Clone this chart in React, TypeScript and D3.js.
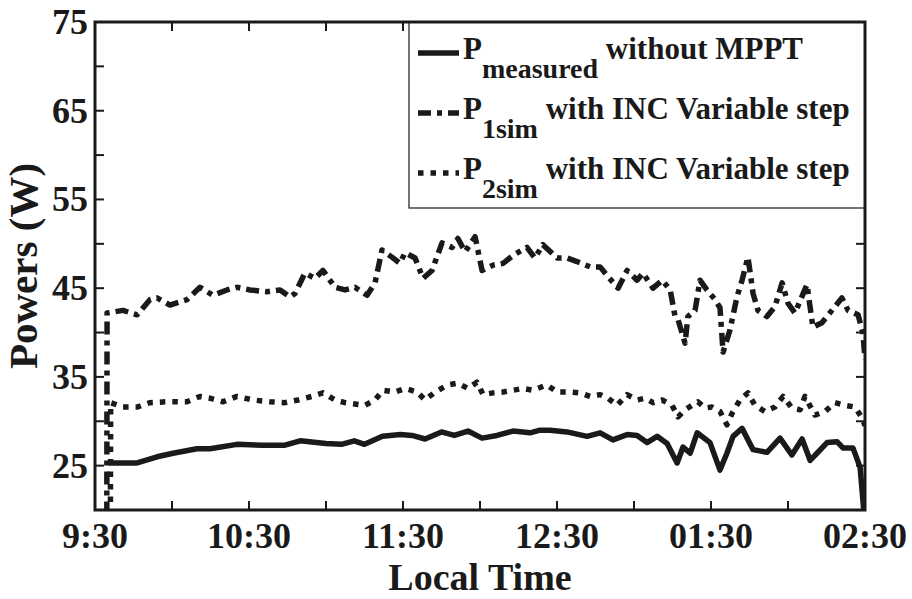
import React from 'react';
import * as d3 from 'd3';

// x in minutes after 9:30
const xTickLabels = ['9:30', '10:30', '11:30', '12:30', '01:30', '02:30'];
const xTickMinutes = [0, 30, 60, 90, 120, 150, 180, 210, 240, 270, 300];
const yTickValues = [20, 25, 30, 35, 40, 45, 50, 55, 60, 65, 70, 75];
const yLabelValues = [25, 35, 45, 55, 65, 75];

const measuredT = [5.8, 10, 16.4, 24.2, 30.4, 39.7, 44.8, 55.3, 65.5, 74, 79.9, 90, 96, 101, 105, 112, 119, 123.5, 128.6, 135, 140, 145.3, 150.8, 156.6, 162.9, 169.5, 173.4, 177.3, 183.9, 191.7, 196.8, 201.8, 207.3, 211.2, 215.1, 219.0, 222.9, 226.8, 229.1, 231.9, 234.6, 239.6, 243.5, 246.2, 248.6, 252.1, 256.4, 261.8, 266.9, 271.5, 275.5, 278.6, 281.3, 285.2, 289.1, 291.4, 295.3, 298.1, 299.5];
const measuredP = [25.3, 25.3, 25.3, 26.0, 26.4, 26.9, 26.9, 27.4, 27.3, 27.3, 27.8, 27.5, 27.4, 27.8, 27.4, 28.3, 28.5, 28.4, 28.0, 28.8, 28.4, 28.9, 28.1, 28.4, 28.9, 28.7, 29.0, 29.0, 28.8, 28.3, 28.7, 27.9, 28.5, 28.4, 27.6, 28.3, 27.5, 25.3, 27.1, 26.4, 28.7, 27.6, 24.5, 26.4, 28.3, 29.2, 26.8, 26.5, 28.1, 26.2, 28.0, 25.6, 26.4, 27.6, 27.7, 27.0, 27.0, 24.8, 20.0];

const p1T = [4.6, 4.7, 10.9, 16.4, 21.4, 24.2, 29.2, 35.8, 40.9, 46.0, 51.4, 55.3, 60.4, 67.0, 72.1, 76.0, 77.9, 81.8, 85.7, 88.8, 93.5, 97.4, 101.3, 106.0, 109.1, 111.8, 115.7, 118.8, 120.8, 124.7, 127.8, 131.3, 135.2, 139.1, 141.4, 144.2, 148.1, 150.8, 155.1, 159.0, 162.9, 168.3, 171.4, 174.5, 180.0, 183.9, 187.8, 192.9, 196.8, 199.9, 203.8, 207.3, 211.2, 213.5, 217.4, 221.0, 224.1, 226.0, 227.2, 229.9, 231.0, 233.8, 235.7, 238.4, 241.6, 243.5, 244.7, 247.4, 250.1, 252.1, 254.4, 256.4, 258.3, 261.8, 264.9, 267.7, 270.0, 272.7, 277.4, 279.7, 283.2, 287.1, 291.0, 293.4, 297.3, 299.2, 300];
const p1P = [19.5, 42.2, 42.5, 42.0, 43.7, 43.9, 43.1, 43.7, 45.1, 44.2, 44.8, 45.1, 44.8, 44.6, 44.8, 44.0, 44.4, 46.7, 46.1, 47.0, 45.1, 44.8, 45.1, 44.2, 45.6, 49.3, 48.5, 47.8, 49.0, 48.4, 46.1, 47.0, 50.1, 49.6, 50.6, 49.1, 50.8, 47.0, 47.6, 47.8, 48.7, 49.6, 48.4, 49.9, 48.4, 48.4, 48.0, 47.4, 47.4, 46.3, 45.0, 47.0, 45.9, 46.7, 45.0, 45.9, 44.8, 41.8, 41.4, 38.8, 41.8, 42.5, 45.9, 44.8, 43.7, 42.8, 37.8, 40.3, 44.0, 45.9, 48.5, 44.4, 42.5, 41.8, 42.9, 45.6, 43.3, 42.2, 45.4, 40.6, 41.1, 42.5, 43.9, 42.5, 42.0, 39.9, 37.0];

const p2T = [6.0, 6.1, 10.9, 16.4, 21.4, 28.1, 35.8, 40.9, 44.8, 49.9, 55.3, 61.6, 68.2, 74.0, 79.1, 84.5, 88.8, 93.5, 97.4, 105.2, 109.1, 112.2, 116.9, 120.8, 125.5, 128.6, 132.5, 137.5, 141.4, 145.3, 148.8, 151.2, 155.1, 159.0, 162.9, 166.8, 170.6, 176.1, 180.0, 185.1, 189.0, 192.9, 196.8, 199.9, 203.4, 207.3, 211.2, 214.3, 217.4, 221.0, 224.8, 227.2, 229.9, 232.6, 234.9, 237.7, 240.4, 243.5, 246.2, 248.2, 251.3, 254.4, 257.1, 261.0, 264.9, 268.1, 271.5, 274.7, 276.6, 280.5, 284.4, 288.3, 292.2, 296.1, 298.8, 300];
const p2P = [19.5, 32.1, 31.6, 31.6, 32.1, 32.2, 32.2, 32.8, 32.6, 32.2, 32.8, 32.4, 32.2, 32.1, 32.4, 32.8, 33.2, 32.4, 32.1, 31.8, 32.4, 33.5, 33.3, 33.7, 33.3, 32.4, 33.3, 34.1, 34.3, 33.7, 34.4, 33.0, 33.2, 33.3, 33.5, 33.7, 33.5, 34.1, 33.3, 33.3, 33.2, 32.8, 33.0, 32.6, 31.8, 33.0, 32.4, 32.6, 32.1, 32.4, 31.8, 30.5, 31.3, 31.8, 32.2, 31.5, 31.6, 31.1, 29.6, 30.9, 32.4, 33.2, 31.8, 31.1, 31.6, 32.8, 31.5, 31.3, 32.8, 30.7, 31.1, 32.1, 31.8, 31.6, 30.4, 29.5];

const FONT = '"Liberation Serif", "Times New Roman", serif';

export default function App() {
  const left = 95, right = 865, top = 22, bottom = 510;
  const x = d3.scaleLinear().domain([0, 300]).range([left, right]);
  const y = d3.scaleLinear().domain([20, 75]).range([bottom, top]);
  const line = d3.line<[number, number]>().x(d => x(d[0])).y(d => y(d[1])).curve(d3.curveLinear);
  const zip = (t: number[], v: number[]) => t.map((tt, i) => [tt, v[i]] as [number, number]);

  const series = [
    { t: measuredT, v: measuredP, dash: undefined as string | undefined, label: 'measured', rest: ' without MPPT' },
    { t: p1T, v: p1P, dash: '13 6 5 6', label: '1sim', rest: ' with INC Variable step' },
    { t: p2T, v: p2P, dash: '5.5 7', label: '2sim', rest: ' with INC Variable step' },
  ];

  const tickLen = 9;
  const xLabelIdx = [0, 2, 4, 6, 8, 10];

  return (
    <svg width={912} height={599} style={{ position: 'absolute', left: 0, top: 0, background: '#fff' }} fontFamily={FONT} fontWeight="bold">
      <rect x={0} y={0} width={912} height={599} fill="#fff" />
      <defs>
        <clipPath id="plotClip">
          <rect x={left} y={top} width={right - left} height={bottom - top} />
        </clipPath>
      </defs>
      <g clipPath="url(#plotClip)">
        {series.map((s, i) => (
          <path key={i} d={line(zip(s.t, s.v)) || ''} fill="none" stroke="#1a1a1a" strokeWidth={5.5}
            strokeDasharray={s.dash} strokeLinejoin="round" strokeLinecap={s.dash ? 'butt' : 'round'} />
        ))}
      </g>
      {xTickMinutes.map((m, i) => (
        <g key={'xt' + i}>
          <line x1={x(m)} x2={x(m)} y1={bottom} y2={bottom - tickLen} stroke="#1a1a1a" strokeWidth={2} />
          <line x1={x(m)} x2={x(m)} y1={top} y2={top + tickLen} stroke="#1a1a1a" strokeWidth={2} />
        </g>
      ))}
      {yTickValues.map((v, i) => (
        <g key={'yt' + i}>
          <line x1={left} x2={left + tickLen} y1={y(v)} y2={y(v)} stroke="#1a1a1a" strokeWidth={2} />
          <line x1={right} x2={right - tickLen} y1={y(v)} y2={y(v)} stroke="#1a1a1a" strokeWidth={2} />
        </g>
      ))}
      <g>
        <rect x={409} y={top} width={right - 409} height={186} fill="#fff" stroke="#1a1a1a" strokeWidth={1.2} />
        {series.map((s, i) => {
          const ly = 53 + i * 60;
          return (
            <g key={'lg' + i}>
              <line x1={418} x2={459} y1={ly} y2={ly} stroke="#1a1a1a" strokeWidth={5.5} strokeDasharray={s.dash} />
              <text x={463} y={ly + 6} fontSize={31} fill="#1a1a1a">
                P<tspan dy={19} fontSize={28}>{s.label}</tspan><tspan dy={-19} fontSize={31}>{s.rest}</tspan>
              </text>
            </g>
          );
        })}
      </g>
      <rect x={left} y={top} width={right - left} height={bottom - top} fill="none" stroke="#1a1a1a" strokeWidth={3} />
      {xLabelIdx.map((idx, i) => (
        <text key={'xl' + i} x={x(xTickMinutes[idx])} y={548} fontSize={36} textAnchor="middle" fill="#1a1a1a">{xTickLabels[i]}</text>
      ))}
      {yLabelValues.map((v, i) => (
        <text key={'yl' + i} x={88} y={y(v) + 12} fontSize={36} textAnchor="end" fill="#1a1a1a">{v}</text>
      ))}
      <text x={(left + right) / 2} y={590} fontSize={38} textAnchor="middle" fill="#1a1a1a">Local Time</text>
      <text transform={`translate(37,${(top + bottom) / 2}) rotate(-90)`} fontSize={41} textAnchor="middle" fill="#1a1a1a">Powers (W)</text>
    </svg>
  );
}
